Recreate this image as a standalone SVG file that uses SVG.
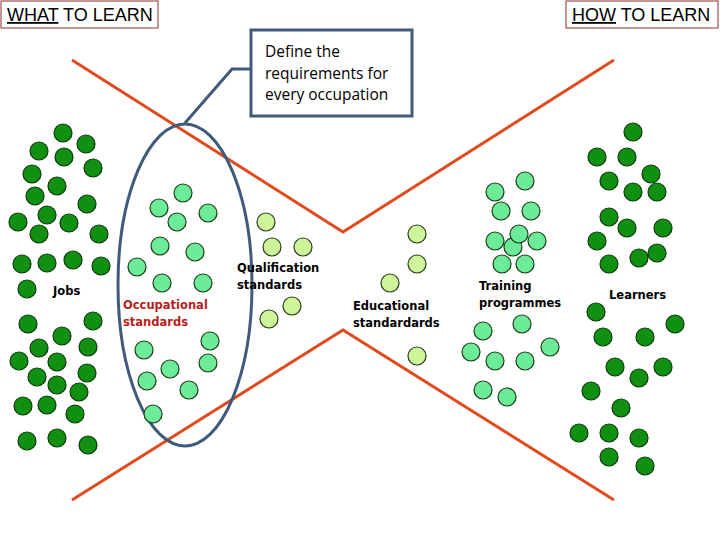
<svg xmlns="http://www.w3.org/2000/svg" width="720" height="540" viewBox="0 0 720 540">
<style>
.dg{fill:#109010;stroke:#0a3a0a;stroke-width:1.2}
.mg{fill:#6ceb98;stroke:#1a3a1a;stroke-width:1.2}
.yg{fill:#cdf59a;stroke:#2a3a1a;stroke-width:1.2}
.lbl{font-family:"DejaVu Sans",Verdana,sans-serif;font-size:11.5px;font-weight:bold;fill:#000}
.red{fill:#b81c1c}
.hdr{font-family:"Liberation Sans",Arial,sans-serif;font-size:18px;fill:#000}
.cal{font-family:"Open Sans","Liberation Sans",sans-serif;font-size:15.5px;fill:#000}
.or{stroke:#e04a1c;stroke-width:3;fill:none}
</style>
<rect width="720" height="540" fill="#fff"/>
<g id="connectors">
<polyline class="or" points="72,60 343,232 614,60"/>
<polyline class="or" points="72,500 343,330 614,500"/>
<polyline points="251,69 232,69 185,123" fill="none" stroke="#3f5a7a" stroke-width="3"/>
</g>
<g id="what">
<rect x="1" y="1" width="157" height="27" fill="#fff" stroke="#a05050" stroke-width="1.2"/>
<text class="hdr" x="7" y="21"><tspan text-decoration="underline">WHAT</tspan> TO LEARN</text>
</g>
<g id="how">
<rect x="566" y="1" width="152" height="27" fill="#fff" stroke="#a05050" stroke-width="1.2"/>
<text class="hdr" x="572" y="21"><tspan text-decoration="underline">HOW</tspan> TO LEARN</text>
</g>
<g id="callout">
<rect x="251" y="30" width="161" height="86" fill="#fff" stroke="#3f5a7a" stroke-width="3"/>
<text class="cal" x="265" y="57">Define the</text>
<text class="cal" x="265" y="79">requirements for</text>
<text class="cal" x="265" y="100">every occupation</text>
</g>
<g id="jobs">
<g class="dg">
<circle cx="63" cy="133" r="9"/><circle cx="39" cy="151" r="9"/><circle cx="86" cy="144" r="9"/><circle cx="64" cy="157" r="9"/><circle cx="93" cy="168" r="9"/><circle cx="32" cy="174" r="9"/><circle cx="57" cy="186" r="9"/><circle cx="35" cy="196" r="9"/><circle cx="87" cy="204" r="9"/><circle cx="47" cy="215" r="9"/><circle cx="18" cy="222" r="9"/><circle cx="69" cy="223" r="9"/><circle cx="39" cy="234" r="9"/><circle cx="99" cy="234" r="9"/><circle cx="22" cy="264" r="9"/><circle cx="47" cy="263" r="9"/><circle cx="73" cy="260" r="9"/><circle cx="101" cy="266" r="9"/><circle cx="27" cy="289" r="9"/><circle cx="28" cy="324" r="9"/><circle cx="93" cy="321" r="9"/><circle cx="62" cy="336" r="9"/><circle cx="39" cy="348" r="9"/><circle cx="88" cy="347" r="9"/><circle cx="19" cy="361" r="9"/><circle cx="57" cy="362" r="9"/><circle cx="87" cy="373" r="9"/><circle cx="37" cy="377" r="9"/><circle cx="57" cy="385" r="9"/><circle cx="79" cy="392" r="9"/><circle cx="23" cy="406" r="9"/><circle cx="47" cy="405" r="9"/><circle cx="75" cy="414" r="9"/><circle cx="27" cy="441" r="9"/><circle cx="57" cy="438" r="9"/><circle cx="88" cy="445" r="9"/>
</g>
<text class="lbl" x="53" y="295">Jobs</text>
</g>
<g id="occupational">
<ellipse cx="185" cy="285" rx="67" ry="161" fill="none" stroke="#3f5a7a" stroke-width="3"/>
<g class="mg">
<circle cx="183" cy="193" r="9"/><circle cx="159" cy="208" r="9"/><circle cx="208" cy="213" r="9"/><circle cx="177" cy="222" r="9"/><circle cx="160" cy="246" r="9"/><circle cx="195" cy="252" r="9"/><circle cx="137" cy="267" r="9"/><circle cx="162" cy="283" r="9"/><circle cx="203" cy="283" r="9"/><circle cx="210" cy="341" r="9"/><circle cx="144" cy="350" r="9"/><circle cx="208" cy="363" r="9"/><circle cx="170" cy="369" r="9"/><circle cx="147" cy="381" r="9"/><circle cx="189" cy="390" r="9"/><circle cx="153" cy="414" r="9"/>
</g>
<text class="lbl red" x="123" y="309">Occupational</text>
<text class="lbl red" x="123" y="326">standards</text>
</g>
<g id="qualification">
<g class="yg">
<circle cx="266" cy="222" r="9"/><circle cx="272" cy="247" r="9"/><circle cx="303" cy="247" r="9"/><circle cx="292" cy="306" r="9"/><circle cx="269" cy="319" r="9"/>
</g>
<text class="lbl" x="237" y="272">Qualification</text>
<text class="lbl" x="237" y="289">standards</text>
</g>
<g id="educational">
<g class="yg">
<circle cx="417" cy="234" r="9"/><circle cx="417" cy="264" r="9"/><circle cx="390" cy="283" r="9"/><circle cx="417" cy="356" r="9"/>
</g>
<text class="lbl" x="353" y="310">Educational</text>
<text class="lbl" x="353" y="327">standardards</text>
</g>
<g id="training">
<g class="mg">
<circle cx="525" cy="181" r="9"/><circle cx="495" cy="192" r="9"/><circle cx="501" cy="211" r="9"/><circle cx="531" cy="211" r="9"/><circle cx="495" cy="241" r="9"/><circle cx="537" cy="241" r="9"/><circle cx="513" cy="247" r="9"/><circle cx="519" cy="234" r="9"/><circle cx="502" cy="264" r="9"/><circle cx="525" cy="264" r="9"/><circle cx="483" cy="331" r="9"/><circle cx="522" cy="324" r="9"/><circle cx="550" cy="347" r="9"/><circle cx="471" cy="352" r="9"/><circle cx="495" cy="361" r="9"/><circle cx="525" cy="361" r="9"/><circle cx="483" cy="390" r="9"/><circle cx="507" cy="397" r="9"/>
</g>
<text class="lbl" x="479" y="290">Training</text>
<text class="lbl" x="479" y="307">programmes</text>
</g>
<g id="learners">
<g class="dg">
<circle cx="633" cy="132" r="9"/><circle cx="597" cy="157" r="9"/><circle cx="627" cy="157" r="9"/><circle cx="651" cy="174" r="9"/><circle cx="609" cy="181" r="9"/><circle cx="633" cy="192" r="9"/><circle cx="657" cy="192" r="9"/><circle cx="609" cy="217" r="9"/><circle cx="627" cy="228" r="9"/><circle cx="663" cy="228" r="9"/><circle cx="597" cy="241" r="9"/><circle cx="657" cy="253" r="9"/><circle cx="639" cy="258" r="9"/><circle cx="609" cy="264" r="9"/><circle cx="596" cy="312" r="9"/><circle cx="675" cy="324" r="9"/><circle cx="603" cy="337" r="9"/><circle cx="645" cy="337" r="9"/><circle cx="615" cy="367" r="9"/><circle cx="663" cy="367" r="9"/><circle cx="639" cy="378" r="9"/><circle cx="591" cy="391" r="9"/><circle cx="621" cy="408" r="9"/><circle cx="579" cy="433" r="9"/><circle cx="609" cy="433" r="9"/><circle cx="639" cy="438" r="9"/><circle cx="609" cy="457" r="9"/><circle cx="645" cy="466" r="9"/>
</g>
<text class="lbl" x="609" y="299">Learners</text>
</g>
</svg>
